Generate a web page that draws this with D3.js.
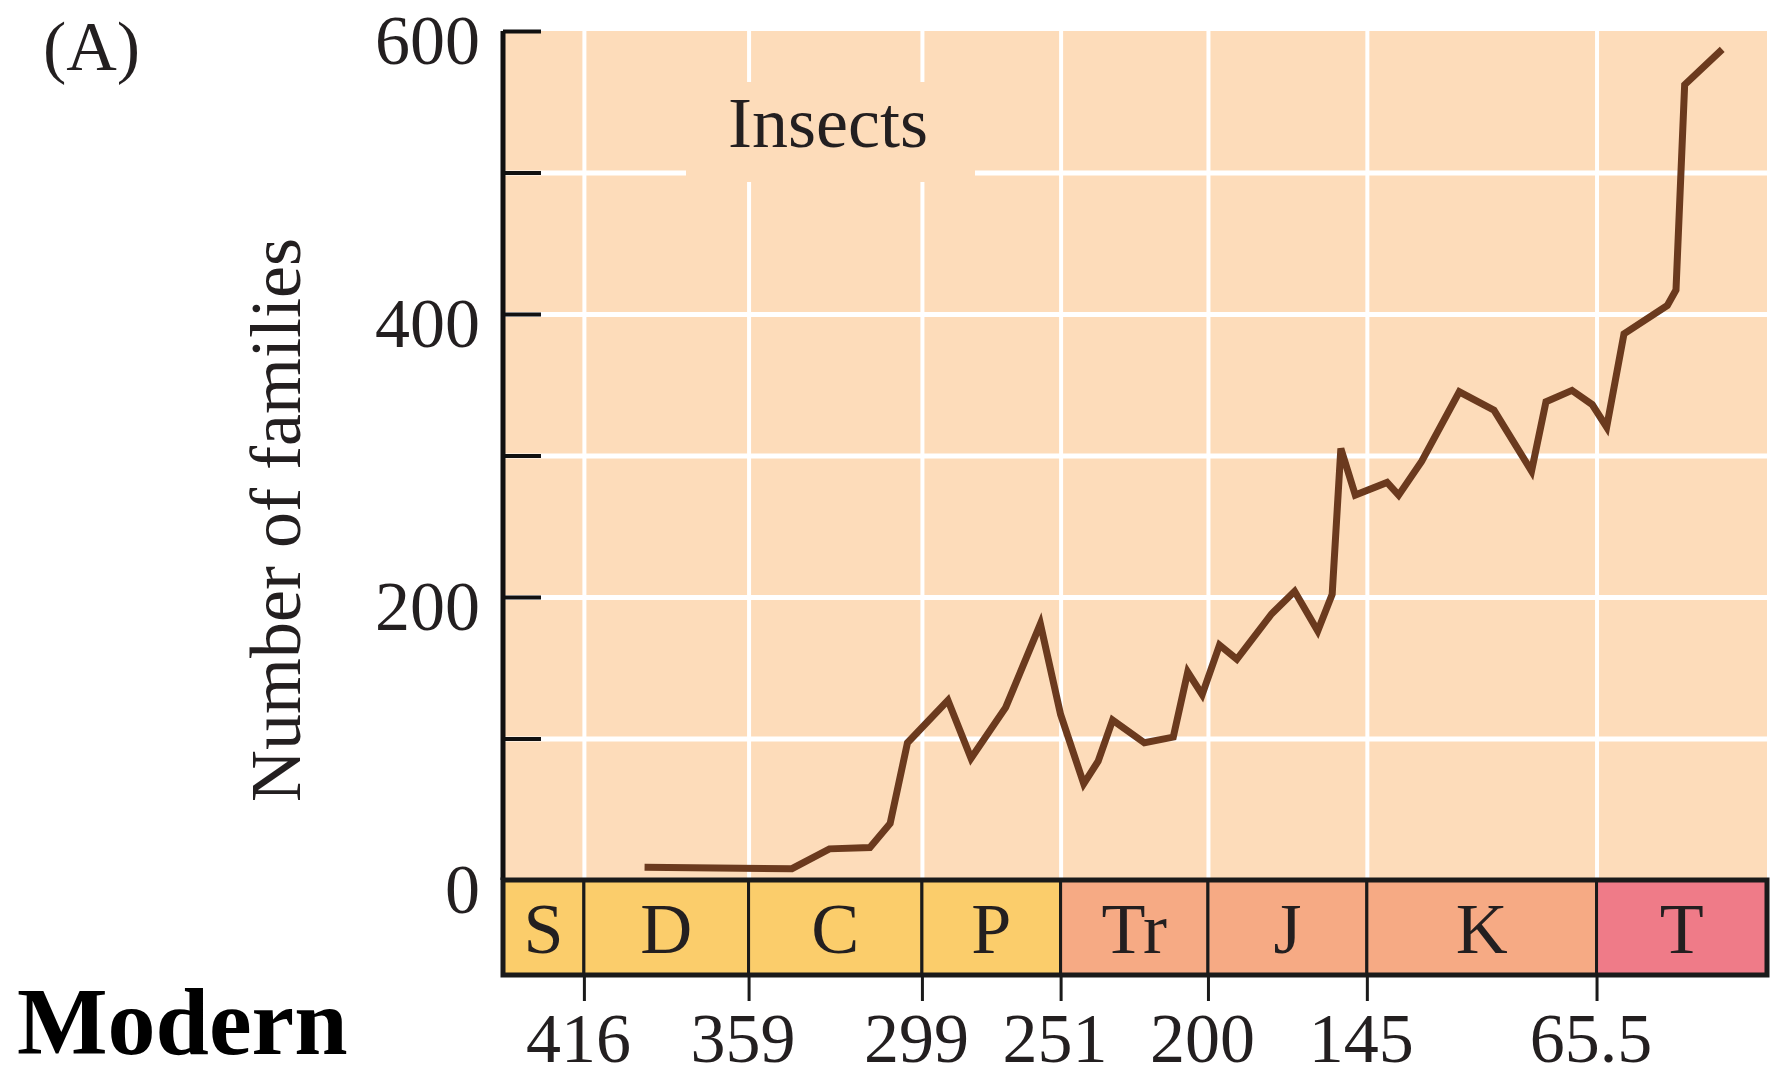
<!DOCTYPE html>
<html>
<head>
<meta charset="utf-8">
<script src="https://cdn.jsdelivr.net/npm/d3@7"></script>
<style>
  body { margin: 0; background: #fff; }
  svg { display: block; font-family: "Liberation Serif", "Times New Roman", serif; }
</style>
</head>
<body>
<div id="chart"></div>
<script>
"use strict";

// data: age in millions of years ago, number of insect families
var ages = [395, 344, 331, 317, 310, 304, 290, 282, 270, 258, 251, 243, 238, 233, 222, 212, 207, 202, 196, 190,
  178, 170, 162, 157, 154, 149, 138, 134, 126, 113, 101, 88, 83, 74, 67, 62, 56, 41, 38, 35, 22];
var families = [9, 8, 22, 23, 40, 97, 127, 86, 122, 181, 117, 68, 84, 113, 97, 101, 147, 131, 166, 156,
  188, 204, 176, 202, 305, 272, 281, 272, 296, 345, 332, 289, 338, 346, 336, 320, 386, 406, 417, 562, 587];

// geological periods and their start ages
var periods = ["S", "D", "C", "P", "Tr", "J", "K", "T"];
var periodStarts = [444, 416, 359, 299, 251, 200, 145, 65.5];
var periodEnd = 6.5;
var boundaryTicks = [416, 359, 299, 251, 200, 145, 65.5];
var yTicks = [0, 100, 200, 300, 400, 500, 600];
var yLabels = [0, 200, 400, 600];

var width = 1773;
var height = 1078;
var plot = { left: 503, right: 1767, top: 31, bottom: 880 };
var bandBottom = 975;
var textColor = "#231f20";

var periodColor = d3.scaleOrdinal()
  .domain(periods)
  .range(["#fbcd6b", "#fbcd6b", "#fbcd6b", "#fbcd6b", "#f6aa84", "#f6aa84", "#f6aa84", "#ef7b88"]);

var x = d3.scaleLinear().domain([periodStarts[0], periodEnd]).range([plot.left, plot.right]);
var y = d3.scaleLinear().domain([0, 600]).range([plot.bottom, plot.top]);

var svg = d3.select("#chart").append("svg")
  .attr("width", width)
  .attr("height", height);

// plot background
svg.append("rect")
  .attr("x", plot.left).attr("y", plot.top)
  .attr("width", plot.right - plot.left).attr("height", plot.bottom - plot.top)
  .attr("fill", "#fddcba");

// white grid
var gridY = svg.append("g")
  .attr("transform", "translate(" + plot.left + ",0)")
  .call(d3.axisLeft(y).tickValues(yTicks.slice(1, -1)).tickSize(-(plot.right - plot.left)).tickFormat(""));
gridY.select(".domain").remove();
gridY.selectAll("line").attr("stroke", "#fff").attr("stroke-width", 5);

var gridX = svg.append("g")
  .attr("transform", "translate(0," + plot.bottom + ")")
  .call(d3.axisBottom(x).tickValues(boundaryTicks).tickSize(-(plot.bottom - plot.top)).tickFormat(""));
gridX.select(".domain").remove();
gridX.selectAll("line").attr("stroke", "#fff").attr("stroke-width", 4);

// label box breaks the grid lines
svg.append("rect")
  .attr("x", 686).attr("y", 82)
  .attr("width", 289).attr("height", 100)
  .attr("fill", "#fddcba");
svg.append("text")
  .attr("x", 828).attr("y", 147)
  .attr("text-anchor", "middle")
  .attr("font-size", 72)
  .attr("fill", textColor)
  .text("Insects");

// the series
var line = d3.line()
  .x(function (d, i) { return x(ages[i]); })
  .y(function (d) { return y(d); });

svg.append("path")
  .datum(families)
  .attr("d", line)
  .attr("fill", "none")
  .attr("stroke", "#6b3a1e")
  .attr("stroke-width", 7)
  .attr("stroke-linejoin", "miter");

// y axis with inward ticks
var yAxis = svg.append("g")
  .attr("transform", "translate(" + plot.left + ",0)")
  .call(d3.axisLeft(y).tickValues(yTicks).tickSize(-38).tickPadding(23)
    .tickFormat(function (d) { return yLabels.indexOf(d) >= 0 ? d : ""; }));
yAxis.select(".domain").attr("stroke", "#111").attr("stroke-width", 5).attr("d", "M0," + plot.top + "V" + plot.bottom);
yAxis.selectAll(".tick line").attr("stroke", "#111").attr("stroke-width", 4);
yAxis.selectAll(".tick text")
  .attr("font-family", "Liberation Serif")
  .attr("font-size", 70)
  .attr("fill", textColor)
  .attr("dy", "0.47em");

// time scale band
var segs = periods.map(function (p, i) {
  return { name: p, start: periodStarts[i], end: i < periods.length - 1 ? periodStarts[i + 1] : periodEnd };
});
var band = svg.append("g");
band.selectAll("rect")
  .data(segs)
  .enter().append("rect")
  .attr("x", function (d) { return x(d.start); })
  .attr("y", plot.bottom)
  .attr("width", function (d) { return x(d.end) - x(d.start); })
  .attr("height", bandBottom - plot.bottom)
  .attr("fill", function (d) { return periodColor(d.name); })
  .attr("stroke", "#1a1a1a")
  .attr("stroke-width", 3);
band.append("rect")
  .attr("x", plot.left).attr("y", plot.bottom)
  .attr("width", plot.right - plot.left).attr("height", bandBottom - plot.bottom)
  .attr("fill", "none").attr("stroke", "#1a1a1a").attr("stroke-width", 5);
band.selectAll("text")
  .data(segs)
  .enter().append("text")
  .attr("x", function (d) { return (x(d.start) + x(d.end)) / 2; })
  .attr("y", 953)
  .attr("text-anchor", "middle")
  .attr("font-size", 72)
  .attr("fill", textColor)
  .text(function (d) { return d.name; });

// age ticks under the band
var xAxis = svg.append("g")
  .attr("transform", "translate(0," + bandBottom + ")")
  .call(d3.axisBottom(x).tickValues(boundaryTicks).tickSize(26).tickPadding(0).tickFormat(d3.format("")));
xAxis.select(".domain").remove();
xAxis.selectAll(".tick line").attr("stroke", "#1a1a1a").attr("stroke-width", 3);
xAxis.selectAll(".tick text")
  .attr("font-family", "Liberation Serif")
  .attr("font-size", 70)
  .attr("fill", textColor)
  .attr("y", 87)
  .attr("dy", 0)
  .attr("dx", -6);

// titles
svg.append("text")
  .attr("transform", "translate(300,520) rotate(-90)")
  .attr("text-anchor", "middle")
  .attr("font-size", 72)
  .attr("fill", textColor)
  .text("Number of families");

svg.append("text")
  .attr("x", 43).attr("y", 70)
  .attr("font-size", 70)
  .attr("fill", textColor)
  .text("(A)");

svg.append("text")
  .attr("x", 17).attr("y", 1054)
  .attr("font-size", 96)
  .attr("font-weight", "bold")
  .attr("fill", "#000")
  .text("Modern");
</script>
</body>
</html>
